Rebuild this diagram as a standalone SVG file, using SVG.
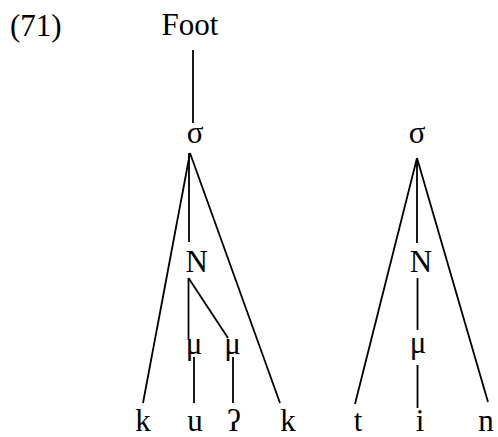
<svg xmlns="http://www.w3.org/2000/svg" width="498" height="437" viewBox="0 0 498 437">
<style>
text { font-family: 'Liberation Serif', 'Times New Roman', 'DejaVu Serif', serif; font-size: 31px; fill: #000; }
.m { text-anchor: middle; }
.c line { stroke: #000; stroke-width: 1.8; stroke-linecap: butt; }
</style>
<rect width="498" height="437" fill="#fff"/>
<g font-family="Liberation Serif, Times New Roman, DejaVu Serif, serif">
<text id="label" x="10" y="36">(71)</text>
<g class="c" id="connectors">
  <line x1="193" y1="50" x2="193" y2="123"/>
  <line x1="190" y1="153" x2="143" y2="403"/>
  <line x1="190" y1="153" x2="280" y2="403"/>
  <line x1="189" y1="153" x2="189" y2="242"/>
  <line x1="188.5" y1="278" x2="188.5" y2="340"/>
  <line x1="188.5" y1="278" x2="228" y2="338"/>
  <line x1="194" y1="357" x2="194" y2="403"/>
  <line x1="233" y1="357" x2="233" y2="403"/>
  <line x1="417" y1="158" x2="355" y2="404"/>
  <line x1="417" y1="158" x2="488" y2="402"/>
  <line x1="417" y1="158" x2="417" y2="243"/>
  <line x1="417.5" y1="278" x2="417.5" y2="330"/>
  <line x1="417.5" y1="365" x2="417.5" y2="408"/>
</g>
<g id="foot"><text class="m" x="190" y="35">Foot</text></g>
<g id="sigma1"><text class="m" x="195" y="143">σ</text></g>
<g id="N1"><text class="m" x="196.7" y="272">N</text></g>
<g id="mu1a"><text class="m" x="194" y="354">μ</text></g>
<g id="mu1b"><text class="m" x="232.5" y="354">μ</text></g>
<g id="k1"><text class="m" x="143" y="431">k</text></g>
<g id="u1"><text class="m" x="195" y="431">u</text></g>
<g id="glottal"><text class="m" x="234" y="431">ʔ</text></g>
<g id="k2"><text class="m" x="288" y="431">k</text></g>
<g id="sigma2"><text class="m" x="417" y="143">σ</text></g>
<g id="N2"><text class="m" x="421" y="272">N</text></g>
<g id="mu2"><text class="m" x="418" y="353">μ</text></g>
<g id="t"><text class="m" x="358" y="431">t</text></g>
<g id="i"><text class="m" x="420" y="431">i</text></g>
<g id="n"><text class="m" x="486" y="431">n</text></g>
</g>
</svg>
